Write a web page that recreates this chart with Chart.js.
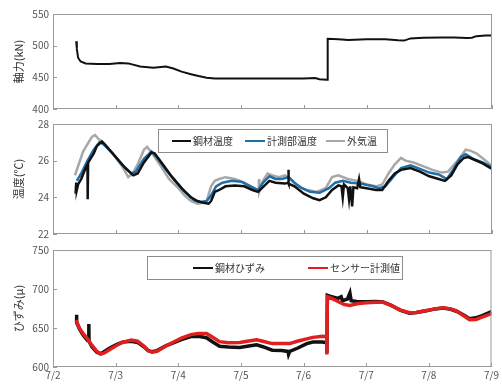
<!DOCTYPE html>
<html>
<head>
<meta charset="utf-8">
<script src="https://cdn.jsdelivr.net/npm/chart.js"></script>
<style>
    body { margin: 0; background: #fff; }
    #wrap { position: relative; width: 502px; height: 386px; }
    canvas { position: absolute; left: 0; }
</style>
</head>
<body>
<div id="wrap">
    <canvas id="forceChart" width="502" height="125" style="top:0"></canvas>
    <canvas id="tempChart" width="502" height="130" style="top:114px"></canvas>
    <canvas id="strainChart" width="502" height="146" style="top:240px"></canvas>
</div>
<script>
    // x = days after 7/2 00:00
    const dayLabels = ['7/2', '7/3', '7/4', '7/5', '7/6', '7/7', '7/8', '7/9'];

    // 軸力 (kN)
    const forceT = [0.37, 0.38, 0.40, 0.44, 0.52, 0.70, 0.90, 1.07, 1.20, 1.39, 1.60, 1.80, 1.92, 2.05, 2.20, 2.32, 2.45, 2.58, 2.80, 3.20, 3.60, 4.00, 4.18, 4.25, 4.36, 4.37, 4.38, 4.55, 4.71, 5.00, 5.30, 5.50, 5.60, 5.70, 5.90, 6.20, 6.40, 6.60, 6.68, 6.75, 6.90, 7.00];
    const forceV = [507, 495, 481, 475, 472, 471, 471, 472.5, 472, 467, 465, 467, 464, 459, 455, 452, 449.5, 448, 448, 448, 448, 448, 449, 447, 446, 446, 511, 510, 509, 510, 510, 508.5, 508, 511.5, 512.5, 513, 513, 512, 512.5, 515, 516, 516];

    // 温度 (℃)
    const steelTempT = [0.36, 0.37, 0.38, 0.40, 0.45, 0.52, 0.55, 0.553, 0.56, 0.65, 0.70, 0.78, 0.85, 1.00, 1.15, 1.28, 1.35, 1.45, 1.57, 1.62, 1.75, 1.90, 2.05, 2.20, 2.30, 2.40, 2.48, 2.52, 2.58, 2.65, 2.75, 2.90, 3.05, 3.18, 3.27, 3.36, 3.45, 3.55, 3.70, 3.75, 3.752, 3.76, 3.85, 4.00, 4.15, 4.25, 4.35, 4.45, 4.55, 4.60, 4.62, 4.64, 4.70, 4.72, 4.74, 4.77, 4.79, 4.85, 4.88, 4.90, 5.00, 5.15, 5.25, 5.35, 5.45, 5.55, 5.70, 5.85, 6.00, 6.15, 6.25, 6.35, 6.45, 6.55, 6.62, 6.72, 6.85, 7.00];
    const steelTempV = [24.2, 24.8, 24.4, 24.7, 25.0, 25.6, 25.8, 23.9, 25.9, 26.4, 26.8, 27.05, 26.8, 26.2, 25.6, 25.2, 25.3, 25.9, 26.45, 26.4, 25.8, 25.1, 24.5, 24.0, 23.8, 23.7, 23.65, 23.8, 24.3, 24.4, 24.6, 24.65, 24.6, 24.4, 24.3, 24.6, 24.9, 24.8, 24.75, 24.8, 25.5, 24.75, 24.6, 24.2, 23.95, 23.85, 24.0, 24.4, 24.65, 24.6, 24.0, 24.7, 24.5, 23.9, 24.6, 23.5, 24.55, 24.5, 25.0, 24.55, 24.5, 24.4, 24.4, 24.9, 25.3, 25.5, 25.6, 25.4, 25.15, 25.0, 24.9, 25.2, 25.8, 26.15, 26.2, 26.05, 25.85, 25.55];
    const gaugeTempT = [0.38, 0.45, 0.55, 0.65, 0.74, 0.80, 0.95, 1.10, 1.25, 1.32, 1.45, 1.57, 1.65, 1.80, 1.95, 2.10, 2.25, 2.35, 2.45, 2.52, 2.60, 2.70, 2.85, 3.00, 3.15, 3.27, 3.35, 3.45, 3.55, 3.65, 3.76, 3.85, 3.97, 4.10, 4.25, 4.40, 4.50, 4.62, 4.75, 4.90, 5.05, 5.20, 5.30, 5.42, 5.55, 5.70, 5.85, 6.00, 6.15, 6.28, 6.38, 6.50, 6.58, 6.70, 6.85, 7.00];
    const gaugeTempV = [24.9, 25.3, 26.0, 26.6, 27.0, 26.9, 26.4, 25.8, 25.3, 25.4, 26.1, 26.5, 26.2, 25.5, 24.9, 24.3, 23.85, 23.75, 23.8, 24.1, 24.6, 24.8, 24.9, 24.85, 24.6, 24.4, 24.8, 25.15, 25.0, 25.0, 25.1, 24.8, 24.5, 24.3, 24.25, 24.5, 24.8, 24.9, 24.8, 24.75, 24.65, 24.5, 24.6, 25.1, 25.6, 25.75, 25.55, 25.35, 25.25, 25.0, 25.5, 26.2, 26.35, 26.1, 25.9, 25.65];
    const airTempT = [0.35, 0.42, 0.48, 0.55, 0.62, 0.67, 0.72, 0.80, 0.95, 1.10, 1.20, 1.27, 1.35, 1.45, 1.50, 1.58, 1.70, 1.85, 2.00, 2.10, 2.20, 2.30, 2.40, 2.45, 2.52, 2.58, 2.65, 2.75, 2.90, 3.05, 3.20, 3.28, 3.285, 3.29, 3.35, 3.42, 3.50, 3.60, 3.70, 3.78, 3.90, 4.05, 4.20, 4.35, 4.45, 4.55, 4.70, 4.85, 5.00, 5.15, 5.25, 5.35, 5.45, 5.55, 5.62, 5.75, 5.90, 6.05, 6.20, 6.30, 6.40, 6.50, 6.58, 6.65, 6.75, 6.90, 7.00];
    const airTempV = [25.2, 25.9, 26.5, 26.9, 27.3, 27.4, 27.2, 27.0, 26.4, 25.7, 25.1, 25.3, 25.8, 26.6, 26.75, 26.4, 25.8, 25.0, 24.5, 24.1, 23.8, 23.65, 23.7, 23.8, 24.6, 24.9, 25.0, 25.1, 25.0, 24.8, 24.5, 24.3, 25.0, 24.3, 24.9, 25.3, 25.2, 25.1, 25.2, 25.0, 24.6, 24.4, 24.3, 24.5, 25.1, 25.2, 25.0, 24.9, 24.7, 24.6, 24.7, 25.3, 25.8, 26.15, 26.0, 25.9, 25.7, 25.5, 25.35, 25.4, 25.8, 26.2, 26.6, 26.55, 26.4, 26.0, 25.7];

    // ひずみ (μ)
    const steelStrainT = [0.37, 0.375, 0.38, 0.42, 0.48, 0.55, 0.57, 0.572, 0.575, 0.62, 0.70, 0.76, 0.82, 0.90, 1.02, 1.12, 1.25, 1.35, 1.45, 1.52, 1.58, 1.66, 1.80, 1.95, 2.05, 2.20, 2.32, 2.45, 2.55, 2.66, 2.80, 2.98, 3.10, 3.25, 3.35, 3.50, 3.65, 3.75, 3.76, 3.78, 3.90, 4.05, 4.15, 4.30, 4.37, 4.372, 4.38, 4.45, 4.55, 4.60, 4.62, 4.70, 4.74, 4.76, 4.85, 5.00, 5.15, 5.27, 5.40, 5.55, 5.69, 5.80, 5.96, 6.10, 6.23, 6.35, 6.44, 6.55, 6.65, 6.75, 6.85, 7.00];
    const steelStrainV = [658, 667, 657, 649, 641, 634, 634, 655, 633, 626, 619, 617, 620, 624, 629, 632, 633, 631.5, 626, 621, 619.5, 621, 627, 632, 635, 639, 639.5, 637.5, 632, 626.5, 625.5, 625, 626.5, 628.5, 626, 621.5, 621, 620, 616, 620, 624, 630, 632, 632, 631, 618, 692, 690, 688, 690, 685, 687, 695, 685, 684, 683.5, 684, 683.5, 679, 672.5, 669, 670, 672, 674.5, 675.5, 674, 671.5, 667, 662, 663, 666, 671];
    const sensorT = [0.37, 0.42, 0.48, 0.55, 0.62, 0.70, 0.76, 0.82, 0.90, 1.02, 1.12, 1.25, 1.35, 1.45, 1.52, 1.58, 1.66, 1.80, 1.95, 2.05, 2.20, 2.32, 2.45, 2.55, 2.66, 2.80, 2.98, 3.10, 3.25, 3.35, 3.50, 3.65, 3.78, 3.90, 4.05, 4.15, 4.30, 4.37, 4.372, 4.38, 4.45, 4.55, 4.65, 4.74, 4.85, 5.00, 5.15, 5.27, 5.40, 5.55, 5.69, 5.80, 5.96, 6.10, 6.23, 6.35, 6.44, 6.55, 6.65, 6.75, 6.85, 7.00];
    const sensorV = [660, 650, 643, 636, 628, 620, 616.5, 618, 622, 628, 632, 634.5, 633, 627, 621, 619, 620, 627, 633, 637, 641.5, 643, 643, 638, 632.5, 631, 631.5, 633, 635, 633, 630, 630, 630, 633, 636, 638, 639.5, 639, 616, 690, 688, 684, 680, 679, 681, 682.5, 683, 683, 679, 673, 669.5, 670, 672.5, 674.5, 676, 674.5, 672, 666, 660.5, 661, 664, 668.5];

    const toPoints = (ts, vs) => ts.map((t, i) => ({ x: t, y: vs[i] }));

    const FONT = "'Noto Sans CJK JP', 'Liberation Sans', sans-serif";
    const FRAME = '#9a9a9a';

    // box around the plot, inside tick marks, boxed legend
    const framePlugin = {
        id: 'frame',
        afterDatasetsDraw(chart, args, opts) {
            const { ctx, chartArea: a, scales } = chart;
            ctx.save();
            ctx.strokeStyle = FRAME;
            ctx.lineWidth = 1;
            ctx.strokeRect(a.left + 0.5, a.top + 0.5, a.right - a.left - 1, a.bottom - a.top - 1);
            ctx.beginPath();
            scales.x.ticks.forEach(t => {
                const px = Math.round(scales.x.getPixelForValue(t.value)) + 0.5;
                ctx.moveTo(px, a.bottom);
                ctx.lineTo(px, a.bottom - 4);
            });
            scales.y.ticks.forEach(t => {
                const py = Math.round(scales.y.getPixelForValue(t.value)) + 0.5;
                ctx.moveTo(a.left, py);
                ctx.lineTo(a.left + 4, py);
            });
            ctx.stroke();

            if (opts.legend) {
                const lg = opts.legend;
                ctx.fillStyle = '#fff';
                ctx.fillRect(lg.box[0], lg.box[1], lg.box[2], lg.box[3]);
                ctx.strokeStyle = '#8c8c8c';
                ctx.strokeRect(lg.box[0] + 0.5, lg.box[1] + 0.5, lg.box[2], lg.box[3]);
                ctx.font = '10px ' + FONT;
                ctx.textBaseline = 'middle';
                lg.items.forEach((it, i) => {
                    const ds = chart.data.datasets[i];
                    ctx.strokeStyle = ds.borderColor;
                    ctx.lineWidth = 2;
                    ctx.beginPath();
                    ctx.moveTo(it[0], lg.y);
                    ctx.lineTo(it[1], lg.y);
                    ctx.stroke();
                    ctx.fillStyle = '#333';
                    ctx.fillText(ds.label, it[1] + 2, lg.y + 0.5);
                });
            }
            ctx.restore();
        }
    };

    function makeChart(id, cfg) {
        new Chart(document.getElementById(id), {
            type: 'line',
            data: { datasets: cfg.datasets },
            options: {
                responsive: false,
                animation: false,
                devicePixelRatio: 1,
                layout: { padding: { top: cfg.top, right: 10, bottom: 0, left: 0 } },
                elements: { point: { radius: 0 }, line: { tension: 0 } },
                plugins: {
                    legend: { display: false },
                    tooltip: { enabled: false },
                    frame: { legend: cfg.legend }
                },
                scales: {
                    x: {
                        type: 'linear',
                        min: 0,
                        max: 7,
                        grid: { display: false, drawTicks: false },
                        border: { display: false },
                        ticks: {
                            display: cfg.xLabels,
                            stepSize: 1,
                            autoSkip: false,
                            maxRotation: 0,
                            padding: 3,
                            color: '#555',
                            font: { family: FONT, size: 10, lineHeight: 1 },
                            callback: (v, i) => dayLabels[i]
                        },
                        afterFit: s => { s.height = cfg.xHeight; }
                    },
                    y: {
                        min: cfg.yMin,
                        max: cfg.yMax,
                        grid: { display: false, drawTicks: false },
                        border: { display: false },
                        ticks: {
                            stepSize: cfg.yStep,
                            padding: 4,
                            color: '#555',
                            font: { family: FONT, size: 10 }
                        },
                        title: {
                            display: true,
                            text: cfg.yTitle,
                            color: '#333',
                            padding: { top: 13, bottom: 0 },
                            font: { family: FONT, size: 11, lineHeight: 1.1 }
                        },
                        afterFit: s => { s.width = 53; }
                    }
                }
            },
            plugins: [framePlugin]
        });
    }

    makeChart('forceChart', {
        top: 14, xHeight: 16, xLabels: false,
        yMin: 400, yMax: 550, yStep: 50, yTitle: '軸力(kN)',
        datasets: [
            { label: '軸力', data: toPoints(forceT, forceV), borderColor: '#111', borderWidth: 2 }
        ]
    });

    makeChart('tempChart', {
        top: 10, xHeight: 8, xLabels: false,
        yMin: 22, yMax: 28, yStep: 2, yTitle: '温度(℃)',
        legend: { box: [158, 15, 229, 23], y: 27, items: [[172, 191], [245, 265], [326, 345]] },
        datasets: [
            { label: '鋼材温度', data: toPoints(steelTempT, steelTempV), borderColor: '#111', borderWidth: 2.5 },
            { label: '計測部温度', data: toPoints(gaugeTempT, gaugeTempV), borderColor: '#1f6ea6', borderWidth: 2.5 },
            { label: '外気温', data: toPoints(airTempT, airTempV), borderColor: '#a8a8a8', borderWidth: 2.5 }
        ]
    });

    makeChart('strainChart', {
        top: 9, xHeight: 19, xLabels: true,
        yMin: 600, yMax: 750, yStep: 50, yTitle: 'ひずみ(μ)',
        legend: { box: [147, 16, 255, 23], y: 28, items: [[193, 213], [308, 328]] },
        datasets: [
            { label: '鋼材ひずみ', data: toPoints(steelStrainT, steelStrainV), borderColor: '#111', borderWidth: 3.5, order: 1 },
            { label: 'センサー計測値', data: toPoints(sensorT, sensorV), borderColor: '#e01f1f', borderWidth: 3.5, order: 0 }
        ]
    });
</script>
</body>
</html>
